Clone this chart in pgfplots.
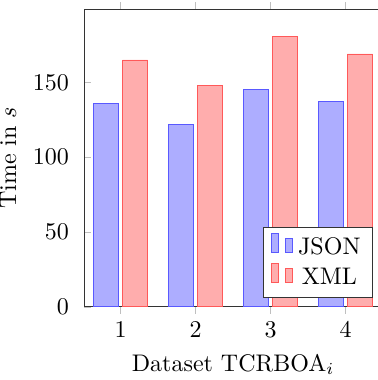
\documentclass[border=0pt]{standalone}
\usepackage{pgfplots}
\pgfplotsset{compat=1.18}
\begin{document}
\begin{tikzpicture}
\begin{axis}[
  name=ax,
  scale only axis,
  width=124pt, height=124pt,
  axis x line=box,
  axis y line=left,
  y axis line style={-},
  ybar=1.6pt,
  bar width=10.5pt,
  xmin=0.515, xmax=4.485,
  ymin=0, ymax=199,
  xtick={1,2,3,4},
  ytick={0,50,100,150},
  major tick length=0.1cm,
  tick align=outside,
  ytick pos=left,
  ytick style={xshift=0.1cm},
  tick style={black!25},
  axis line style={black!80},
  xlabel={Dataset TCRBOA$_i$},
  ylabel={Time in $s$},
  legend pos=south east,
  legend style={draw=black!80},
  cycle list={
    {draw=blue!65, fill=blue!32},
    {draw=red!65, fill=red!32}},
]
\addplot coordinates {(1,136) (2,122) (3,145) (4,137)};
\addplot coordinates {(1,165) (2,148) (3,181) (4,169)};
\legend{JSON,XML}
\end{axis}
\pgfresetboundingbox
\path[use as bounding box] ([shift={(-35.1pt,-30.5pt)}]ax.south west) rectangle ([shift={(122.3pt,127.8pt)}]ax.south west);
\end{tikzpicture}
\end{document}
